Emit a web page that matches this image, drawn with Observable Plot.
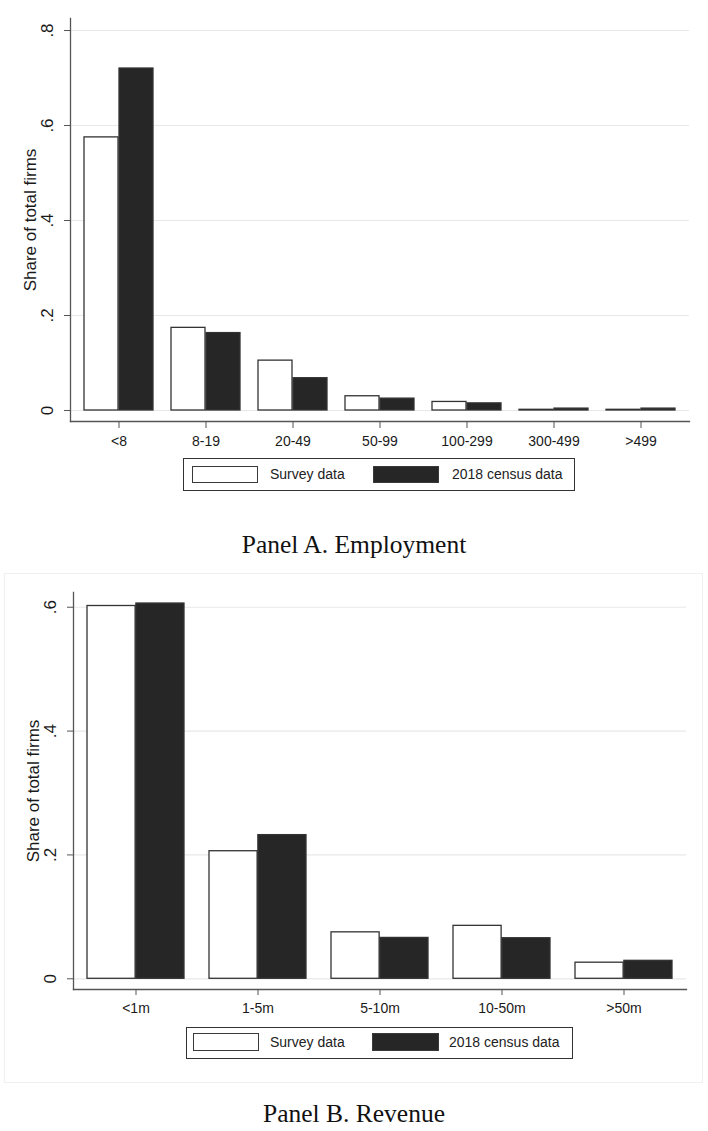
<!DOCTYPE html>
<html>
<head>
<meta charset="utf-8">
<script src="https://cdn.jsdelivr.net/npm/d3@7"></script>
<script src="https://cdn.jsdelivr.net/npm/@observablehq/plot@0.6"></script>
<style>
  html, body { margin: 0; padding: 0; background: #fff; }
  #page { position: relative; width: 708px; height: 1131px; overflow: hidden; background: #fff;
          font-family: "Liberation Sans", Arial, Helvetica, sans-serif; color: #222; }
  .abs { position: absolute; }
  .legbox { position: absolute; border: 1.5px solid #333; box-sizing: border-box; background: #fff; }
  .sw { position: absolute; box-sizing: border-box; border: 1.4px solid #3a3a3a; }
  .lt { position: absolute; font-size: 14px; line-height: 17px; white-space: nowrap; color: #222; }
  .cap { position: absolute; left: 0; width: 708px; text-align: center; font-family: "Liberation Serif", "Times New Roman", serif;
         font-size: 25.5px; line-height: 25.5px; color: #111; }
  svg { overflow: visible; }
</style>
</head>
<body>
<div id="page">
  <div class="abs" style="left:4px; top:573px; width:699px; height:510px; border:1px solid #f0f0f0; box-sizing:border-box;"></div>
  <div id="p1" class="abs" style="left:0; top:0;"></div>
  <div id="p2" class="abs" style="left:0; top:573px;"></div>

  <div class="legbox" style="left:183px; top:458px; width:392px; height:33px;"></div>
  <div class="sw" id="sw1a" style="left:192px; top:466px; width:66px; height:17px;"></div>
  <div class="lt" id="lt1a" style="left:270px; top:466px;"></div>
  <div class="sw" id="sw1b" style="left:373px; top:466px; width:66px; height:17px;"></div>
  <div class="lt" id="lt1b" style="left:452px; top:466px;"></div>
  <div class="cap" id="cap1" style="top:531.5px;"></div>

  <div class="legbox" style="left:186px; top:1027px; width:387px; height:31.5px;"></div>
  <div class="sw" id="sw2a" style="left:193px; top:1033px; width:66px; height:18px;"></div>
  <div class="lt" id="lt2a" style="left:270px; top:1033.5px;"></div>
  <div class="sw" id="sw2b" style="left:372px; top:1033px; width:67px; height:18px;"></div>
  <div class="lt" id="lt2b" style="left:449px; top:1033.5px;"></div>
  <div class="cap" id="cap2" style="top:1101px;"></div>
</div>
<script>
// ---- data ----
const seriesNames = ["Survey data", "2018 census data"];
const seriesFills = ["#ffffff", "#262626"];

const empCats = ["<8", "8-19", "20-49", "50-99", "100-299", "300-499", ">499"];
const empSurvey = [0.575, 0.174, 0.105, 0.030, 0.018, 0.0015, 0.0015];
const empCensus = [0.720, 0.163, 0.068, 0.025, 0.015, 0.004, 0.004];
const empYTicks = [0, 0.2, 0.4, 0.6, 0.8];

const revCats = ["<1m", "1-5m", "5-10m", "10-50m", ">50m"];
const revSurvey = [0.602, 0.206, 0.075, 0.0855, 0.026];
const revCensus = [0.606, 0.232, 0.066, 0.0655, 0.029];
const revYTicks = [0, 0.2, 0.4, 0.6];

const yTitle = "Share of total firms";
const captions = ["Panel A. Employment", "Panel B. Revenue"];

const fmt = d => d === 0 ? "0" : String(d).replace(/^0\./, ".");

function panel(cats, survey, census, yTicks, o) {
  const W = 708;
  const xOpts = {type: "band", domain: cats, paddingInner: 0.2045, paddingOuter: o.po, range: [o.ml, W - o.mr]};
  const half = Plot.scale({x: xOpts}).bandwidth / 2;
  const sRows = cats.map((c, i) => ({cat: c, series: seriesNames[0], value: survey[i]}));
  const cRows = cats.map((c, i) => ({cat: c, series: seriesNames[1], value: census[i]}));
  return Plot.plot({
    width: W,
    height: o.height,
    marginLeft: o.ml, marginRight: o.mr, marginTop: o.mt, marginBottom: o.mb,
    style: {fontFamily: "'Liberation Sans', Arial, Helvetica, sans-serif", background: "transparent", color: "#1a1a1a", overflow: "visible"},
    x: {domain: cats, paddingInner: 0.2045, paddingOuter: o.po, label: null},
    y: {domain: o.ydom},
    color: {domain: seriesNames, range: seriesFills},
    marks: [
      Plot.gridY(yTicks, {stroke: "#e8e8e8", strokeOpacity: 1, strokeWidth: 1.2}),
      Plot.barY(sRows, {x: "cat", y: "value", fill: "series", stroke: "#333", strokeWidth: 1.3, insetRight: half}),
      Plot.barY(cRows, {x: "cat", y: "value", fill: "series", stroke: "#333", strokeWidth: 1.3, insetLeft: half}),
      Plot.frame({anchor: "left", stroke: "#555", strokeWidth: 1.3}),
      Plot.frame({anchor: "bottom", stroke: "#555", strokeWidth: 1.3}),
      Plot.axisY(yTicks, {anchor: "left", tickSize: 6, tickRotate: -90, tickFormat: fmt,
        fontSize: 17, tickPadding: 12, stroke: "#555", label: yTitle, labelAnchor: "center", labelArrow: "none", labelOffset: 47}),
      Plot.axisX({anchor: "bottom", tickSize: o.tickSize, tickPadding: 8, fontSize: 14, label: null, stroke: "#555"})
    ]
  });
}

document.getElementById("p1").appendChild(panel(empCats, empSurvey, empCensus, empYTicks,
  {height: 455, ml: 70, mr: 19, mt: 18, mb: 34, po: 0.12, ydom: [-0.02316, 0.8253], tickSize: 7}));
document.getElementById("p2").appendChild(panel(revCats, revSurvey, revCensus, revYTicks,
  {height: 450, ml: 73, mr: 22, mt: 19, mb: 34, po: 0.0965, ydom: [-0.0173, 0.6238], tickSize: 6}));

for (const k of ["1", "2"]) {
  document.getElementById("sw" + k + "a").style.background = seriesFills[0];
  document.getElementById("sw" + k + "b").style.background = seriesFills[1];
  document.getElementById("lt" + k + "a").textContent = seriesNames[0];
  document.getElementById("lt" + k + "b").textContent = seriesNames[1];
}
document.getElementById("cap1").textContent = captions[0];
document.getElementById("cap2").textContent = captions[1];
</script>
</body>
</html>
